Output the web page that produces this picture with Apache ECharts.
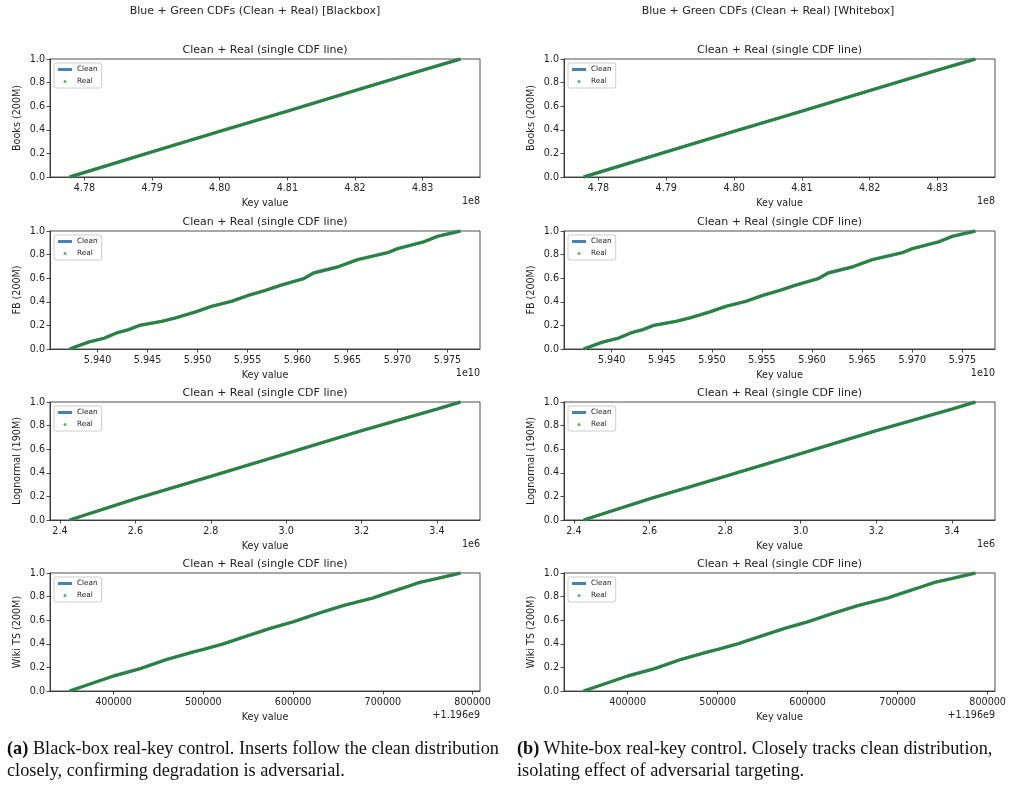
<!DOCTYPE html>
<html>
<head>
<meta charset="utf-8">
<script src="https://cdn.jsdelivr.net/npm/echarts@6/dist/echarts.min.js"></script>
<style>
body { margin: 0; background: #fff; }
#main { width: 1022px; height: 790px; }
.cap { position: absolute; font-family: "Liberation Serif", "DejaVu Serif", serif; font-size: 18.3px; line-height: 22px; color: #111; white-space: nowrap; }
</style>
</head>
<body>
<div id="main"></div>
<div class="cap" style="left:7px;top:737px;"><b>(a)</b> Black-box real-key control. Inserts follow the clean distribution<br>closely, confirming degradation is adversarial.</div>
<div class="cap" style="left:517px;top:737px;"><b>(b)</b> White-box real-key control. Closely tracks clean distribution,<br>isolating effect of adversarial targeting.</div>
<script>
// key values (in units of the axis offset) and CDF fractions
var booksKeys = [4.7778, 4.79, 4.80, 4.81, 4.82, 4.83, 4.8356];
var booksCdf = [0, 0.213, 0.387, 0.558, 0.733, 0.905, 1];
var booksTicks = [4.78, 4.79, 4.80, 4.81, 4.82, 4.83];

var fbKeys = [5.9372, 5.9391, 5.9407, 5.9419, 5.9431, 5.9442, 5.9464, 5.9478, 5.9498, 5.9514, 5.9534, 5.9551,
    5.9568, 5.9583, 5.9606, 5.9616, 5.9640, 5.9660, 5.9690, 5.9700, 5.9726, 5.9740, 5.9763];
var fbCdf = [0, 0.059, 0.093, 0.136, 0.164, 0.2, 0.234, 0.263, 0.314, 0.362, 0.404, 0.455,
    0.497, 0.54, 0.596, 0.644, 0.695, 0.757, 0.816, 0.85, 0.907, 0.955, 1];
var fbTicks = [5.940, 5.945, 5.950, 5.955, 5.960, 5.965, 5.970, 5.975];

var lognormalKeys = [2.4254, 2.6, 2.8, 3.0, 3.2, 3.4, 3.4622];
var lognormalCdf = [0, 0.18, 0.37, 0.563, 0.757, 0.94, 1];
var lognormalTicks = [2.4, 2.6, 2.8, 3.0, 3.2, 3.4];

var wikiKeys = [351000, 400000, 429700, 459400, 485300, 500000, 522400, 544600, 574300, 600000,
    629700, 655800, 689200, 700000, 722600, 741200, 759700, 786400];
var wikiCdf = [0, 0.127, 0.189, 0.268, 0.324, 0.352, 0.4, 0.456, 0.53, 0.586,
    0.662, 0.724, 0.789, 0.817, 0.873, 0.921, 0.952, 1];
var wikiTicks = [400000, 500000, 600000, 700000, 800000];

var suptitles = ['Blue + Green CDFs (Clean + Real) [Blackbox]', 'Blue + Green CDFs (Clean + Real) [Whitebox]'];

var panels = [
    {label: 'Books (200M)', keys: booksKeys, cdf: booksCdf, ticks: booksTicks, digits: 2, offset: '1e8'},
    {label: 'FB (200M)', keys: fbKeys, cdf: fbCdf, ticks: fbTicks, digits: 3, offset: '1e10'},
    {label: 'Lognormal (190M)', keys: lognormalKeys, cdf: lognormalCdf, ticks: lognormalTicks, digits: 1, offset: '1e6'},
    {label: 'Wiki TS (200M)', keys: wikiKeys, cdf: wikiCdf, ticks: wikiTicks, digits: 0, offset: '+1.196e9'}
];

var FONT = 'DejaVu Sans';
var TXT = '#222';
var BLUE = '#4682b4';
var GREEN = '#2a8531';
var TICK_FS = 9.6;

var colLeft = [50, 564];
var colWidth = [430, 431];
var supCenter = [255, 768];
var rowTop = [59, 231, 402, 573];
var plotH = 118;

var grids = [], xAxes = [], yAxes = [], series = [], legends = [], texts = [];

suptitles.forEach(function (t, c) {
    texts.push({type: 'text', x: supCenter[c], y: 11,
        style: {text: t, align: 'center', verticalAlign: 'middle', fill: TXT, font: '11px "DejaVu Sans"'}});
});

for (var c = 0; c < 2; c++) {
    for (var r = 0; r < 4; r++) {
        var p = panels[r];
        var i = grids.length;
        var lo = p.keys[0], hi = p.keys[p.keys.length - 1];
        var pad = (hi - lo) * 0.05;
        grids.push({left: colLeft[c], top: rowTop[r], width: colWidth[c], height: plotH,
            show: true, borderColor: '#222', borderWidth: 0.8, backgroundColor: '#fff'});
        (function (p) {
            xAxes.push({
                type: 'value', gridIndex: i, min: lo - pad, max: hi + pad,
                name: 'Key value', nameLocation: 'middle', nameGap: 21,
                nameTextStyle: {fontFamily: FONT, fontSize: TICK_FS, color: TXT},
                axisLine: {show: true, onZero: false, lineStyle: {color: '#222', width: 0.8}},
                axisTick: {show: true, length: 3.5, customValues: p.ticks, lineStyle: {color: '#222', width: 0.8}},
                axisLabel: {customValues: p.ticks, fontFamily: FONT, fontSize: TICK_FS, color: TXT, margin: 6,
                    formatter: function (v) { return v.toFixed(p.digits); }},
                splitLine: {show: false}
            });
        })(p);
        yAxes.push({
            type: 'value', gridIndex: i, min: 0, max: 1, interval: 0.2,
            name: p.label, nameLocation: 'middle', nameGap: 28,
            nameTextStyle: {fontFamily: FONT, fontSize: TICK_FS, color: TXT},
            axisLine: {show: true, lineStyle: {color: '#222', width: 0.8}},
            axisTick: {show: true, length: 3.5, lineStyle: {color: '#222', width: 0.8}},
            axisLabel: {fontFamily: FONT, fontSize: TICK_FS, color: TXT, margin: 5,
                formatter: function (v) { return v.toFixed(1); }},
            splitLine: {show: false}
        });
        var pts = p.keys.map(function (k, j) { return [k, p.cdf[j]]; });
        series.push({name: 'Clean', type: 'line', xAxisIndex: i, yAxisIndex: i, data: pts,
            showSymbol: false, color: BLUE, lineStyle: {color: BLUE, width: 3.4}, z: 2});
        series.push({name: 'Real', type: 'line', xAxisIndex: i, yAxisIndex: i, data: pts,
            showSymbol: false, color: GREEN, lineStyle: {color: GREEN, width: 2.6}, z: 3});
        legends.push({
            left: colLeft[c] + 4, top: rowTop[r] + 4, orient: 'vertical',
            selectedMode: false, itemWidth: 14, itemHeight: 3, itemGap: 5,
            padding: [3, 4, 3, 4], borderColor: '#ccc', borderWidth: 1, borderRadius: 2,
            backgroundColor: 'rgba(255,255,255,0.8)',
            textStyle: {fontFamily: FONT, fontSize: 7.3, color: TXT},
            data: [{name: 'Clean', icon: 'rect'},
                   {name: 'Real', icon: 'circle', itemStyle: {color: '#5cb85c'}}]
        });
        var cx = colLeft[c] + colWidth[c] / 2;
        texts.push({type: 'text', x: cx, y: rowTop[r] - 9,
            style: {text: 'Clean + Real (single CDF line)', align: 'center', verticalAlign: 'middle',
                fill: TXT, font: '11px "DejaVu Sans"'}});
        texts.push({type: 'text', x: colLeft[c] + colWidth[c], y: rowTop[r] + plotH + 24,
            style: {text: p.offset, align: 'right', verticalAlign: 'middle', fill: TXT, font: TICK_FS + 'px "DejaVu Sans"'}});
    }
}

var chart = echarts.init(document.getElementById('main'), null, {renderer: 'canvas'});
chart.setOption({
    animation: false,
    backgroundColor: '#fff',
    grid: grids,
    xAxis: xAxes,
    yAxis: yAxes,
    legend: legends,
    series: series,
    graphic: texts
});
</script>
</body>
</html>
